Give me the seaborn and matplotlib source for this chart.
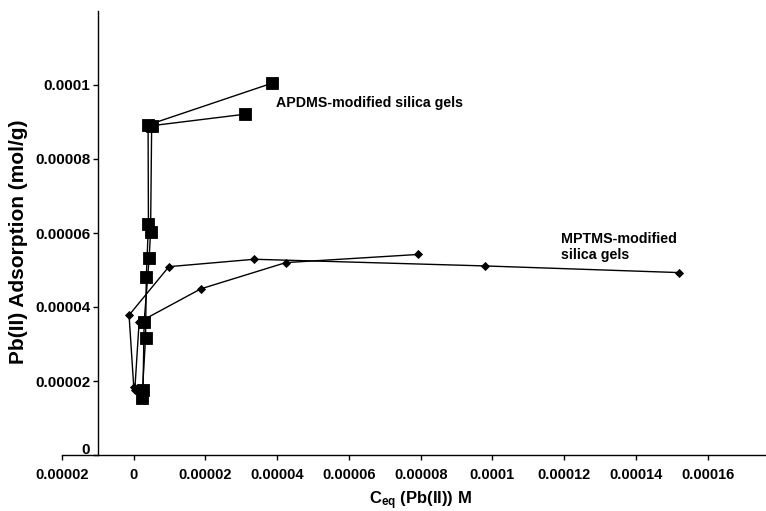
import numpy as np
import pandas as pd
import matplotlib
matplotlib.use("Agg")
import matplotlib.pyplot as plt
import matplotlib.transforms as mtransforms
import seaborn as sns

# ---- data ----
apdms_1_x = [2.3e-6, 3.3e-6, 3.5e-6, 4.1e-6, 4.0e-6, 3.86e-5]
apdms_1_y = [1.53e-5, 3.17e-5, 4.80e-5, 6.23e-5, 8.92e-5, 1.005e-4]
apdms_2_x = [2.6e-6, 2.9e-6, 4.3e-6, 4.7e-6, 5.0e-6, 3.10e-5]
apdms_2_y = [1.76e-5, 3.59e-5, 5.32e-5, 6.04e-5, 8.90e-5, 9.21e-5]

mptms_1_x = [0.0, -1.3e-6, 9.8e-6, 3.36e-5, 9.79e-5, 1.521e-4]
mptms_1_y = [1.85e-5, 3.78e-5, 5.09e-5, 5.29e-5, 5.11e-5, 4.93e-5]
mptms_2_x = [0.3e-6, 1.5e-6, 1.87e-5, 4.24e-5, 7.93e-5]
mptms_2_y = [1.76e-5, 3.59e-5, 4.49e-5, 5.20e-5, 5.42e-5]

x_ticks = [-0.00002, 0, 0.00002, 0.00004, 0.00006, 0.00008, 0.0001, 0.00012, 0.00014, 0.00016]
x_tick_labels = ["0.00002", "0", "0.00002", "0.00004", "0.00006", "0.00008", "0.0001",
                 "0.00012", "0.00014", "0.00016"]
y_ticks = [0, 0.00002, 0.00004, 0.00006, 0.00008, 0.0001]
y_tick_labels = ["0", "0.00002", "0.00004", "0.00006", "0.00008", "0.0001"]

label_apdms = "APDMS-modified silica gels"
label_mptms = "MPTMS-modified\nsilica gels"
x_label = r"$\mathbf{C_{eq}}$ (Pb(II)) M"
y_label = "Pb(II) Adsorption (mol/g)"

# ---- style ----
sns.set_theme(style="white")
plt.rcParams["font.family"] = ["Liberation Sans", "DejaVu Sans"]
plt.rcParams["font.weight"] = "bold"
plt.rcParams["mathtext.fontset"] = "custom"
plt.rcParams["mathtext.rm"] = "Liberation Sans:bold"
plt.rcParams["mathtext.bf"] = "Liberation Sans:bold"
plt.rcParams["mathtext.it"] = "Liberation Sans:bold"

W, H = 766, 511
fig = plt.figure(figsize=(W / 100, H / 100), dpi=100)
ax = fig.add_axes([62 / W, (H - 455) / H, (W - 62) / W, (455 - 11) / H])

series = [
    (apdms_1_x, apdms_1_y, "s", 9),
    (apdms_2_x, apdms_2_y, "s", 9),
    (mptms_1_x, mptms_1_y, "D", 4.4),
    (mptms_2_x, mptms_2_y, "D", 4.4),
]
for xs, ys, mk, ms in series:
    df = pd.DataFrame({"x": xs, "y": ys})
    sns.lineplot(data=df, x="x", y="y", sort=False, estimator=None, ax=ax,
                 color="black", linewidth=1.0, marker=mk, markersize=ms,
                 markerfacecolor="black", markeredgecolor="black", markeredgewidth=0.6)

ax.set_xlim(-0.00002, 0.0001763)
ax.set_ylim(0, 0.00012)
ax.set_xlabel("")
ax.set_ylabel("")

ax.set_xticks(x_ticks)
ax.set_xticklabels(x_tick_labels, fontsize=10.5, fontweight="bold")
ax.set_yticks(y_ticks)
ax.set_yticklabels(y_tick_labels, fontsize=10.5, fontweight="bold")

for s in ["top", "right"]:
    ax.spines[s].set_visible(False)
ax.spines["left"].set_position(("data", -0.00001))
for s in ["left", "bottom"]:
    ax.spines[s].set_color("black")
    ax.spines[s].set_linewidth(1.0)
ax.tick_params(axis="both", which="both", direction="out", length=3.5, width=1,
               color="black", bottom=True, left=True, labelcolor="black")
ax.tick_params(axis="x", pad=6)
ax.tick_params(axis="y", pad=2)

# the "0" label on the y axis sits a little above the x axis line
zero_lbl = ax.get_yticklabels()[0]
zero_lbl.set_transform(zero_lbl.get_transform() +
                       mtransforms.ScaledTranslation(0, 7 / 100, fig.dpi_scale_trans))

ax.text(3.96e-5, 9.52e-5, label_apdms, fontsize=10.2, fontweight="bold",
        ha="left", va="center", color="black")
ax.text(1.19e-4, 5.62e-5, label_mptms, fontsize=10.3, fontweight="bold",
        ha="left", va="center", color="black", linespacing=1.15)

fig.text(420.6 / W, 1 - 501 / H, x_label, fontsize=12, fontweight="bold",
         ha="center", va="center", color="black")
fig.text(19 / W, 1 - 242 / H, y_label, fontsize=15, fontweight="bold",
         ha="center", va="center", rotation=90, color="black")

fig.savefig("out.png", dpi=100)
